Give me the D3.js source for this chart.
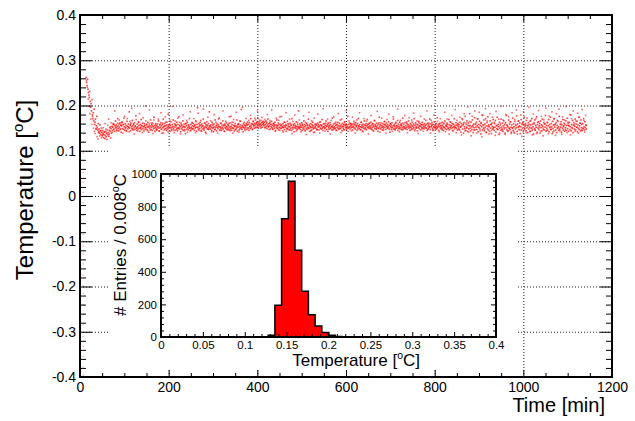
<!DOCTYPE html>
<html>
<head>
<meta charset="UTF-8">
<title>Temperature vs time</title>
<script src="https://cdn.jsdelivr.net/npm/d3@7"></script>
<style>
body{margin:0;background:#fff;}
svg{display:block;font-family:"Liberation Sans",Arial,Helvetica,sans-serif;}
</style>
</head>
<body>
<div id="root"></div>
<script>
// ---- data ----
// temperature readings, one per minute starting at t0, in milli-degC
const t0 = 14
const tempMilli = [
262,251,244,258,236,229,223,218,231,209,196,204,188,213,179,171,184,166,192,158,163,170,149,155,176,151,146,160,142,148,139,157,144,136,150,141,133,145,138,129,
136,141,127,134,143,131,138,125,146,135,140,132,137,151,143,128,149,139,154,145,152,160,147,158,143,155,166,150,157,146,153,171,149,144,159,152,162,148,156,141,
155,163,149,158,147,172,153,145,160,151,156,143,165,154,148,159,152,186,150,157,144,161,153,149,167,155,146,158,151,162,147,154,177,150,145,159,153,148,164,156,
150,143,158,152,169,147,155,161,149,153,144,160,156,151,199,148,157,152,146,163,154,141,159,150,155,168,147,152,158,145,161,153,149,174,156,143,152,160,148,155,
147,159,153,166,150,144,157,152,162,148,155,139,158,151,170,153,146,160,149,155,163,145,157,152,148,181,154,150,159,143,156,164,151,147,158,153,168,149,145,160,
152,157,146,155,163,150,144,158,151,175,148,156,153,142,161,149,157,152,166,145,154,159,147,152,138,160,155,148,163,151,146,157,153,171,150,144,158,152,149,162,
155,148,160,153,145,157,150,166,152,143,158,195,151,147,160,154,149,163,156,144,152,159,148,155,170,150,146,161,153,141,157,152,164,149,155,147,160,151,186,154,
148,157,152,145,163,150,156,142,159,153,147,168,151,155,144,160,152,149,158,154,172,146,153,161,150,145,157,152,166,148,155,143,159,151,156,149,162,153,147,158,
150,155,146,161,152,148,176,154,145,158,151,163,149,156,144,153,160,147,155,150,168,143,157,152,159,146,154,149,165,152,191,147,156,153,142,160,151,157,148,155,
152,160,147,156,163,150,158,145,162,153,149,171,156,152,160,147,158,165,154,150,161,157,168,152,159,163,155,173,150,161,157,164,153,159,167,156,162,152,158,165,
160,155,163,151,158,166,154,161,149,157,170,153,160,155,162,148,158,153,165,151,156,147,160,154,158,150,163,145,157,152,168,149,155,161,146,158,152,175,150,156,
149,157,153,144,160,151,155,147,163,152,158,143,156,150,165,148,154,159,146,153,161,150,157,145,171,152,148,158,155,142,160,151,156,149,164,153,147,158,152,188,
154,150,159,147,156,152,162,145,157,151,148,166,153,158,144,155,150,161,147,156,152,170,149,157,143,154,160,151,146,158,152,163,148,155,150,141,159,153,157,149,
156,147,161,152,158,146,154,163,150,157,148,155,169,152,145,159,153,160,149,156,151,166,147,154,158,143,161,152,155,148,162,150,157,153,146,172,155,151,159,148,
153,160,149,156,145,158,152,163,150,155,147,161,153,168,149,157,152,144,160,154,150,158,146,164,155,151,159,147,156,153,176,150,158,152,162,148,155,160,151,157,
152,146,159,154,165,150,157,148,162,153,156,145,160,151,171,155,149,158,153,147,163,152,156,143,159,154,150,166,148,157,152,160,146,155,169,151,158,153,149,161,
155,150,163,148,157,152,160,145,156,153,167,149,158,154,147,161,152,156,143,159,150,174,153,157,148,162,151,155,146,160,153,149,158,165,152,156,147,161,154,150,
158,152,164,149,156,141,160,153,157,147,162,151,155,170,148,158,153,146,161,150,156,152,167,145,159,154,149,163,152,157,148,160,155,151,172,147,158,153,150,162,
149,156,152,161,147,158,153,166,150,155,145,160,152,157,149,163,154,148,159,151,171,156,147,162,153,150,158,144,157,152,165,149,155,160,146,154,158,151,163,150,
157,153,148,160,152,156,167,150,158,145,161,154,149,157,152,170,147,159,153,155,162,150,146,158,153,164,151,156,148,160,154,150,173,152,157,145,159,153,161,149,
155,151,162,148,157,153,145,160,152,166,149,156,154,147,161,153,158,150,169,146,157,152,163,149,155,160,151,144,158,153,171,148,156,152,162,150,157,146,160,154,
150,158,146,163,152,141,160,155,171,148,157,139,162,153,149,176,145,158,152,166,143,156,161,148,155,182,150,144,163,153,147,168,156,140,159,151,173,146,158,152,
163,147,155,170,142,158,151,165,148,156,137,161,153,179,146,157,150,168,144,159,152,171,140,155,162,149,175,146,157,153,143,166,150,158,138,161,154,148,169,152,
145,160,152,167,141,156,149,174,147,158,153,136,163,150,157,145,170,152,148,161,143,155,166,149,158,139,162,151,178,146,156,153,144,168,150,159,147,164,152,141,
157,150,172,145,160,153,139,165,148,156,151,177,143,159,152,166,147,155,161,138,153,169,146,158,150,163,142,157,174,149,154,160,144,167,151,156,140,162,148,158,
152,165,143,157,150,171,146,159,153,137,162,149,168,145,156,152,175,141,158,150,164,147,155,160,139,166,151,157,144,170,153,148,162,146,159,152,178,143,156,150,
163,146,155,169,142,158,151,174,147,160,153,138,165,149,157,144,171,152,159,146,162,140,156,167,150,153,145,176,148,158,152,164,141,157,150,169,146,155,161,143,
158,151,166,145,156,172,149,160,143,155,163,147,153,179,144,158,151,167,140,156,162,148,154,170,146,159,152,165,142,157,150,174,147,155,161,144,168,151,158,145,
160,149,171,153,146,164,151,157,148
]
// second set of readings, every 2 min starting at t0b, in milli-degC
const t0b = 14.5, dtb = 2
const temp2Milli = [
255,240,214,198,182,170,158,176,150,143,138,147,131,126,140,133,144,129,136,151,142,160,148,139,156,170,145,153,162,141,158,149,188,152,144,161,155,168,147,159,
163,139,158,176,150,145,171,153,142,165,157,194,148,160,137,155,169,151,143,162,182,149,156,140,173,154,147,166,159,144,152,190,146,161,155,138,168,150,157,145,
152,170,143,158,184,147,161,139,155,175,149,163,142,157,168,151,145,198,154,140,166,158,148,172,150,163,137,156,147,179,153,144,160,167,141,157,150,186,146,162,
149,171,156,140,164,152,183,145,158,167,143,154,192,150,161,138,157,174,148,155,166,142,159,151,180,147,163,156,139,170,152,145,161,149,188,157,143,165,153,146,
158,175,144,162,150,139,169,155,147,185,153,160,141,166,157,149,196,152,163,145,171,158,150,167,154,178,160,148,165,157,172,151,162,187,155,168,159,150,174,163,
157,169,151,164,180,153,147,166,158,190,149,161,155,143,172,156,150,167,145,159,176,152,141,163,155,184,148,160,153,170,146,157,138,165,151,179,154,144,162,149,
168,152,142,160,155,177,147,163,136,158,150,185,153,144,166,156,140,172,151,159,146,181,154,139,164,157,149,193,152,143,161,155,170,148,158,137,167,153,146,175,
151,163,145,158,182,149,156,140,170,154,147,162,157,189,150,143,166,153,159,144,174,152,161,139,157,168,148,155,184,146,163,151,142,171,156,149,165,158,137,160,
153,178,147,160,143,166,155,150,187,149,162,141,157,172,152,145,164,158,139,169,154,181,147,160,151,143,175,156,148,163,155,192,150,142,167,157,146,161,153,178,
149,164,140,157,173,152,146,168,155,183,144,159,151,166,138,162,154,176,148,158,143,170,156,150,188,147,161,153,139,167,157,145,179,152,160,148,165,155,142,171,
156,146,163,151,185,142,158,170,149,137,164,155,178,145,160,152,191,140,167,157,147,174,153,135,169,159,182,144,162,150,197,141,165,156,133,176,153,146,188,160,
139,171,152,185,144,162,131,178,156,148,193,141,166,154,137,182,158,145,174,150,163,134,187,155,147,170,139,160,199,146,168,152,136,180,157,143,175,149,164,138,
184,151,142,169,158,190,137,165,153,146,179,132,161,186,148,157,140,172,155,196,143,167,150,135,181,159,147,171,138,163,189,152,144,176,156,133,168,160,194,145,
162,138,177,153,147,186,141,170,157,134,182,150,165,192,144,159,137,175,153,168,147,198,140,163,156,180,135,171,149,188,158,143,166,152,183,139,174,161,146,191,
150,167,141,178,156
]
// start-up readings, all taken around t = 7 min
const startT = 7
const startMilli = [120,95,78,52,30,8,-15,-42,-60,-85,-110,-128,-150,-175,-198,-215,-240,-262,-285,-310,-332,-355,-378,-396]

const xTicks = [0,200,400,600,800,1000,1200]
const yTicks = [-0.4,-0.3,-0.2,-0.1,0,0.1,0.2,0.3,0.4]

// inset histogram, bin width 0.008 degC
const binWidth = 0.008
const histLo = [0.128,0.136,0.144,0.152,0.160,0.168,0.176,0.184,0.192,0.200,0.208]
const histCounts = [10,195,726,955,532,280,137,67,27,10,3]
const hxTicks = [0,0.05,0.1,0.15,0.2,0.25,0.3,0.35,0.4]
const hyTicks = [0,200,400,600,800,1000]

// ---- layout ----
const W = 635, H = 421
const fx0 = 80, fx1 = 612, fy0 = 15, fy1 = 377
const ix0 = 161, ix1 = 496, iy0 = 174, iy1 = 337

const svg = d3.select("#root").append("svg").attr("width", W).attr("height", H)

const x = d3.scaleLinear().domain([0,1200]).range([fx0,fx1])
const y = d3.scaleLinear().domain([-0.4,0.4]).range([fy1,fy0])

function minorVals(major, n){
  let out = []
  for(let i=0;i<major.length-1;i++){
    let a = major[i], b = major[i+1]
    for(let k=1;k<n;k++) out.push(a + (b-a)*k/n)
  }
  return out
}

// grid
function grid(axis, tx, ty){
  let g = svg.append("g").attr("transform","translate("+tx+","+ty+")").call(axis)
  g.select(".domain").remove()
  g.selectAll("line").attr("stroke","#222").attr("stroke-width",1).attr("stroke-dasharray","1,2")
}
grid(d3.axisLeft(y).tickValues(yTicks.slice(1,-1)).tickSize(-(fx1-fx0)).tickFormat(""), fx0, 0)
grid(d3.axisBottom(x).tickValues(xTicks.slice(1,-1)).tickSize(-(fy1-fy0)).tickFormat(""), 0, fy1)

// data points
svg.append("g").selectAll("rect").data(startMilli).join("rect")
  .attr("x", x(startT)-0.7).attr("y", d => y(d/1000)-0.7)
  .attr("width",1.4).attr("height",1.4).attr("fill","#ff0000").attr("opacity",0.35)

svg.append("g").selectAll("rect").data(temp2Milli).join("rect")
  .attr("x", (d,i) => x(t0b+i*dtb)-0.8).attr("y", d => y(d/1000)-0.8)
  .attr("width",1.6).attr("height",1.6).attr("fill","#ff0000").attr("opacity",0.6)

svg.append("g").selectAll("rect").data(tempMilli).join("rect")
  .attr("x", (d,i) => x(t0+i)-0.8).attr("y", d => y(d/1000)-0.8)
  .attr("width",1.6).attr("height",1.6).attr("fill","#ff0000").attr("opacity",0.75)

// frame + axes
function ticks(axis, tx, ty, fontSize){
  let g = svg.append("g").attr("transform","translate("+tx+","+ty+")").call(axis)
  g.select(".domain").remove()
  g.selectAll("line").attr("stroke","#000").attr("stroke-width",1)
  g.selectAll("text").attr("font-family",null).attr("font-size",fontSize).attr("fill","#000")
  g.attr("font-family",null)
  return g
}
const fmt1 = d => d === 0 ? "0" : String(+d.toFixed(2))

ticks(d3.axisLeft(y).tickValues(yTicks).tickSize(-12).tickPadding(4).tickFormat(fmt1), fx0, 0, 14)
ticks(d3.axisLeft(y).tickValues(minorVals(yTicks,5)).tickSize(-6).tickFormat(""), fx0, 0)
ticks(d3.axisRight(y).tickValues(yTicks).tickSize(-12).tickFormat(""), fx1, 0)
ticks(d3.axisRight(y).tickValues(minorVals(yTicks,5)).tickSize(-6).tickFormat(""), fx1, 0)
ticks(d3.axisBottom(x).tickValues(xTicks).tickSize(-7).tickPadding(5).tickFormat(d3.format("d")), 0, fy1, 14)
ticks(d3.axisBottom(x).tickValues(minorVals(xTicks,4)).tickSize(-4).tickFormat(""), 0, fy1)
ticks(d3.axisTop(x).tickValues(xTicks).tickSize(-7).tickFormat(""), 0, fy0)
ticks(d3.axisTop(x).tickValues(minorVals(xTicks,4)).tickSize(-4).tickFormat(""), 0, fy0)

svg.append("rect").attr("x",fx0).attr("y",fy0).attr("width",fx1-fx0).attr("height",fy1-fy0)
  .attr("fill","none").attr("stroke","#000").attr("stroke-width",2)

// titles
function degTitle(sel, label){
  sel.append("tspan").text(label + " [")
  sel.append("tspan").attr("font-size","0.62em").attr("dy","-0.7em").text("o")
  sel.append("tspan").attr("dy","0.434em").text("C]")
}
svg.append("text").attr("transform","translate(33,190) rotate(-90)").attr("text-anchor","middle")
  .attr("font-size",24).call(degTitle, "Temperature")
svg.append("text").attr("x",605).attr("y",412).attr("text-anchor","end").attr("font-size",20).text("Time [min]")

// ---- inset ----
svg.append("rect").attr("x",110).attr("y",148).attr("width",407).attr("height",222).attr("fill","#fff")

const hx = d3.scaleLinear().domain([0,0.4]).range([ix0,ix1])
const hy = d3.scaleLinear().domain([0,1000]).range([iy1,iy0])

const bins = histLo.map((lo,i) => ({x:lo, c:histCounts[i]}))
const steps = [{x:histLo[0], c:0}].concat(bins, [{x:histLo[histLo.length-1]+binWidth, c:0}])

svg.append("path").datum(steps)
  .attr("d", d3.area().curve(d3.curveStepAfter).x(d => hx(d.x)).y0(hy(0)).y1(d => hy(d.c)))
  .attr("fill","#ff0000")
svg.append("path").datum(steps)
  .attr("d", d3.line().curve(d3.curveStepAfter).x(d => hx(d.x)).y(d => hy(d.c)))
  .attr("fill","none").attr("stroke","#000").attr("stroke-width",1.5)

const fmt2 = d => d === 0 ? "0" : String(+d.toFixed(2))
ticks(d3.axisLeft(hy).tickValues(hyTicks).tickSize(-5).tickPadding(4).tickFormat(d3.format("d")), ix0, 0, 11.5)
ticks(d3.axisLeft(hy).tickValues(minorVals(hyTicks,5)).tickSize(-3).tickFormat(""), ix0, 0)
ticks(d3.axisRight(hy).tickValues(hyTicks).tickSize(-5).tickFormat(""), ix1, 0)
ticks(d3.axisRight(hy).tickValues(minorVals(hyTicks,5)).tickSize(-3).tickFormat(""), ix1, 0)
ticks(d3.axisBottom(hx).tickValues(hxTicks).tickSize(-5).tickPadding(4).tickFormat(fmt2), 0, iy1, 11.5)
ticks(d3.axisBottom(hx).tickValues(minorVals(hxTicks,5)).tickSize(-3).tickFormat(""), 0, iy1)
ticks(d3.axisTop(hx).tickValues(hxTicks).tickSize(-5).tickFormat(""), 0, iy0)
ticks(d3.axisTop(hx).tickValues(minorVals(hxTicks,5)).tickSize(-3).tickFormat(""), 0, iy0)

svg.append("rect").attr("x",ix0).attr("y",iy0).attr("width",ix1-ix0).attr("height",iy1-iy0)
  .attr("fill","none").attr("stroke","#000").attr("stroke-width",2)

svg.append("text").attr("x",420).attr("y",366).attr("text-anchor","end").attr("font-size",17)
  .call(degTitle, "Temperature")
const yt = svg.append("text").attr("transform","translate(126,174) rotate(-90)").attr("text-anchor","end").attr("font-size",17)
yt.append("tspan").text("# Entries / 0.008")
yt.append("tspan").attr("font-size","0.62em").attr("dy","-0.7em").text("o")
yt.append("tspan").attr("dy","0.434em").text("C")
</script>
</body>
</html>
